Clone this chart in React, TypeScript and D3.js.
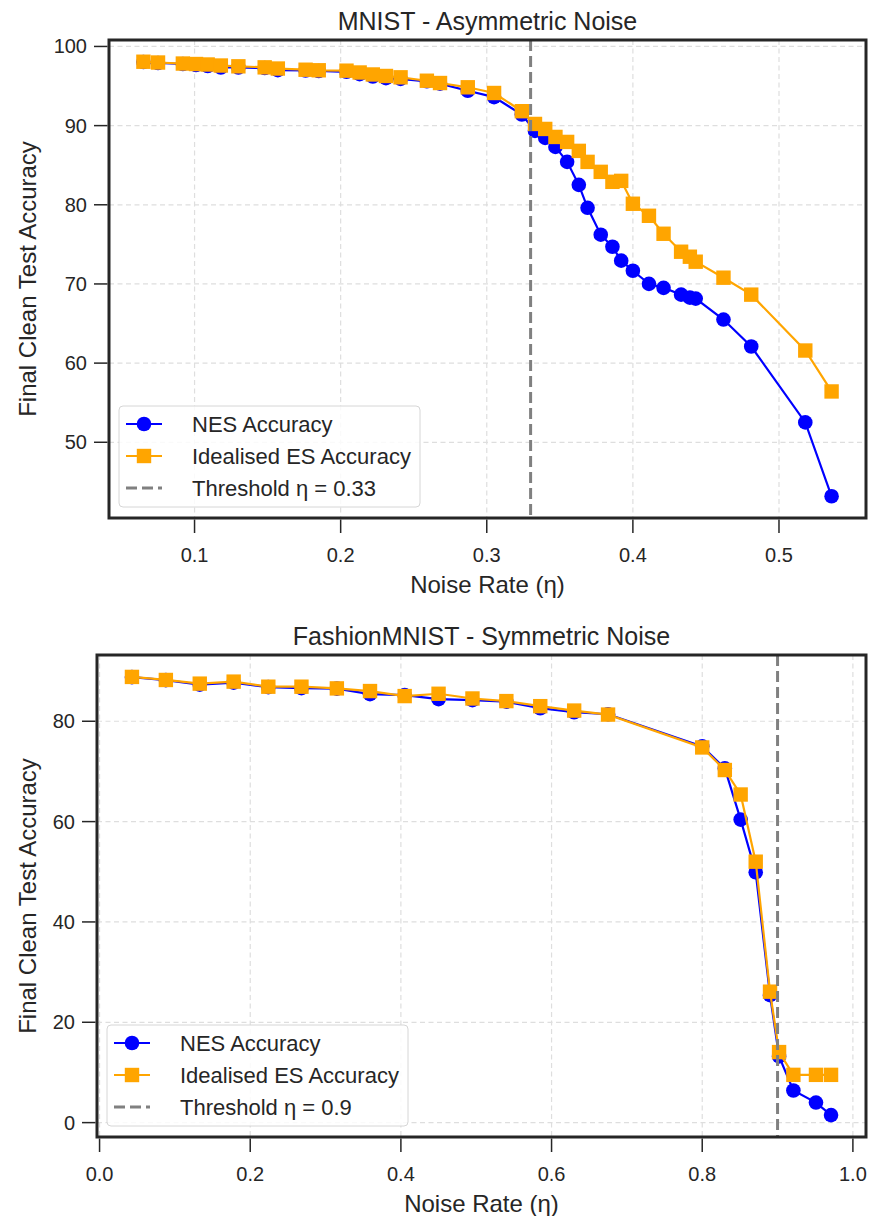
import React from 'react';
import * as d3 from 'd3';

// ---------- Data: MNIST - Asymmetric Noise ----------
const mnistNoise = [
  0.065, 0.075, 0.092, 0.101, 0.109, 0.118, 0.130, 0.148, 0.157, 0.176,
  0.185, 0.204, 0.213, 0.222, 0.231, 0.241, 0.259, 0.268, 0.287, 0.305,
  0.324, 0.333, 0.340, 0.347, 0.355, 0.363, 0.369, 0.378, 0.386, 0.392,
  0.400, 0.411, 0.421, 0.433, 0.439, 0.443, 0.462, 0.481, 0.518, 0.536,
];
const mnistNES = [
  98.03, 97.91, 97.78, 97.66, 97.53, 97.34, 97.34, 97.28, 97.0, 96.96,
  96.9, 96.8, 96.5, 96.2, 96.0, 95.9, 95.6, 95.3, 94.4, 93.6,
  91.4, 89.33, 88.45, 87.31, 85.42, 82.52, 79.62, 76.22, 74.7, 72.94,
  71.67, 70.01, 69.51, 68.65, 68.27, 68.15, 65.5, 62.1, 52.51, 43.18,
];
const mnistES = [
  98.07, 97.97, 97.84, 97.78, 97.72, 97.59, 97.49, 97.36, 97.21, 97.06,
  96.99, 96.94, 96.71, 96.46, 96.27, 96.1, 95.67, 95.38, 94.84, 94.12,
  91.82, 90.21, 89.58, 88.57, 87.94, 86.81, 85.42, 84.16, 82.9, 83.02,
  80.13, 78.61, 76.34, 74.07, 73.44, 72.81, 70.79, 68.65, 61.59, 56.42,
];
const mnistThreshold = 0.33;
const mnistXTicks = [0.1, 0.2, 0.3, 0.4, 0.5];
const mnistYTicks = [50, 60, 70, 80, 90, 100];

// ---------- Data: FashionMNIST - Symmetric Noise ----------
const fashionNoise = [
  0.043, 0.088, 0.133, 0.178, 0.224, 0.268, 0.315, 0.359, 0.405, 0.45,
  0.495, 0.54, 0.585, 0.63, 0.675, 0.8, 0.83, 0.851, 0.871, 0.89,
  0.902, 0.921, 0.951, 0.971,
];
const fashionNES = [
  88.8, 88.2, 87.3, 87.7, 86.8, 86.6, 86.5, 85.4, 85.2, 84.4,
  84.2, 83.9, 82.6, 81.8, 81.4, 75.0, 70.6, 60.4, 49.9, 25.4,
  13.2, 6.4, 4.0, 1.5,
];
const fashionES = [
  88.84, 88.23, 87.5, 87.9, 86.89, 86.89, 86.55, 86.02, 85.02, 85.48,
  84.54, 84.02, 83.01, 82.13, 81.33, 74.78, 70.28, 65.4, 52.01, 26.1,
  14.06, 9.52, 9.52, 9.52,
];
const fashionThreshold = 0.9;
const fashionXTicks = [0.0, 0.2, 0.4, 0.6, 0.8, 1.0];
const fashionYTicks = [0, 20, 40, 60, 80];

const FONT = '"Liberation Sans", Arial, Helvetica, sans-serif';
const TEXT = '#262626';
const BLUE = '#0000ff';
const ORANGE = '#ffa500';
const GRAY = '#808080';

type Box = { left: number; right: number; top: number; bottom: number };

function padded(ext: [number, number]): [number, number] {
  const p = (ext[1] - ext[0]) * 0.05;
  return [ext[0] - p, ext[1] + p];
}

function Square({ cx, cy, s, fill }: { cx: number; cy: number; s: number; fill: string }) {
  return <rect x={cx - s / 2} y={cy - s / 2} width={s} height={s} fill={fill} />;
}

function Panel(props: {
  title: string;
  xs: number[];
  nes: number[];
  es: number[];
  threshold: number;
  xTicks: number[];
  yTicks: number[];
  box: Box;
}) {
  const { title, xs, nes, es, threshold, xTicks, yTicks, box } = props;
  const { left, right, top, bottom } = box;
  const x = d3
    .scaleLinear()
    .domain(padded(d3.extent(xs) as [number, number]))
    .range([left, right]);
  const y = d3
    .scaleLinear()
    .domain(padded(d3.extent([...nes, ...es]) as [number, number]))
    .range([bottom, top]);
  const lineGen = (vals: number[]) =>
    d3
      .line<number>()
      .x((_, i) => x(xs[i]))
      .y((d) => y(d))(vals) as string;

  const tickLen = 15;
  const fmtX = d3.format('.1f');
  const midX = (left + right) / 2;
  const midY = (top + bottom) / 2;

  // legend
  const lx = left + 10;
  const lw = 301;
  const lh = 101;
  const ly = bottom - 11 - lh;
  const rowY = (k: number) => ly + 18 + k * 32;
  const sx0 = lx + 7;
  const sx1 = lx + 43;
  const sxm = (sx0 + sx1) / 2;
  const tx = lx + 73;

  return (
    <g>
      {/* grid */}
      {xTicks.map((t) => (
        <line key={'gx' + t} x1={x(t)} x2={x(t)} y1={top} y2={bottom}
          stroke="#dedede" strokeWidth={1.2} strokeDasharray="5,3.5" />
      ))}
      {yTicks.map((t) => (
        <line key={'gy' + t} x1={left} x2={right} y1={y(t)} y2={y(t)}
          stroke="#dedede" strokeWidth={1.2} strokeDasharray="5,3.5" />
      ))}

      {/* NES */}
      <path d={lineGen(nes)} fill="none" stroke={BLUE} strokeWidth={2.2} />
      {nes.map((v, i) => (
        <circle key={'n' + i} cx={x(xs[i])} cy={y(v)} r={7.3} fill={BLUE} />
      ))}
      {/* Idealised ES */}
      <path d={lineGen(es)} fill="none" stroke={ORANGE} strokeWidth={2.2} />
      {es.map((v, i) => (
        <Square key={'e' + i} cx={x(xs[i])} cy={y(v)} s={14.4} fill={ORANGE} />
      ))}

      {/* threshold */}
      <line x1={x(threshold)} x2={x(threshold)} y1={top} y2={bottom}
        stroke={GRAY} strokeWidth={3} strokeDasharray="11,5" />

      {/* frame */}
      <rect x={left} y={top} width={right - left} height={bottom - top}
        fill="none" stroke={TEXT} strokeWidth={3} />

      {/* x ticks */}
      {xTicks.map((t) => (
        <g key={'xt' + t}>
          <line x1={x(t)} x2={x(t)} y1={bottom + 1.5} y2={bottom + tickLen}
            stroke={TEXT} strokeWidth={1.5} />
          <text x={x(t)} y={bottom + 44} textAnchor="middle" fontSize={20}
            fill={TEXT} fontFamily={FONT}>{fmtX(t)}</text>
        </g>
      ))}
      {/* y ticks */}
      {yTicks.map((t) => (
        <g key={'yt' + t}>
          <line x1={left - tickLen} x2={left - 1.5} y1={y(t)} y2={y(t)}
            stroke={TEXT} strokeWidth={1.5} />
          <text x={left - tickLen - 7} y={y(t) + 7} textAnchor="end" fontSize={20}
            fill={TEXT} fontFamily={FONT}>{String(t)}</text>
        </g>
      ))}

      {/* labels */}
      <text x={midX} y={top - 10} textAnchor="middle" fontSize={25} fill={TEXT}
        fontFamily={FONT}>{title}</text>
      <text x={midX} y={bottom + 75} textAnchor="middle" fontSize={24} fill={TEXT}
        fontFamily={FONT}>Noise Rate (η)</text>
      <text transform={`translate(36,${midY}) rotate(-90)`} textAnchor="middle"
        fontSize={24} fill={TEXT} fontFamily={FONT}>Final Clean Test Accuracy</text>

      {/* legend */}
      <rect x={lx} y={ly} width={lw} height={lh} rx={4} ry={4}
        fill="#ffffff" fillOpacity={0.85} stroke="#d6d6d6" strokeWidth={1} />
      <line x1={sx0} x2={sx1} y1={rowY(0)} y2={rowY(0)} stroke={BLUE} strokeWidth={2.2} />
      <circle cx={sxm} cy={rowY(0)} r={7.3} fill={BLUE} />
      <text x={tx} y={rowY(0) + 7.5} fontSize={22} fill={TEXT} fontFamily={FONT}>NES Accuracy</text>
      <line x1={sx0} x2={sx1} y1={rowY(1)} y2={rowY(1)} stroke={ORANGE} strokeWidth={2.2} />
      <Square cx={sxm} cy={rowY(1)} s={14.4} fill={ORANGE} />
      <text x={tx} y={rowY(1) + 7.5} fontSize={22} fill={TEXT} fontFamily={FONT}>Idealised ES Accuracy</text>
      <line x1={sx0} x2={sx1} y1={rowY(2)} y2={rowY(2)} stroke={GRAY} strokeWidth={3}
        strokeDasharray="11,5" />
      <text x={tx} y={rowY(2) + 7.5} fontSize={22} fill={TEXT} fontFamily={FONT}>
        {`Threshold η = ${threshold}`}
      </text>
    </g>
  );
}

export default function App() {
  return (
    <svg
      width={870}
      height={1216}
      viewBox="0 0 870 1216"
      style={{ position: 'absolute', left: 0, top: 0, background: '#ffffff' }}
    >
      <rect x={0} y={0} width={870} height={1216} fill="#ffffff" />
      <Panel
        title="MNIST - Asymmetric Noise"
        xs={mnistNoise}
        nes={mnistNES}
        es={mnistES}
        threshold={mnistThreshold}
        xTicks={mnistXTicks}
        yTicks={mnistYTicks}
        box={{ left: 109, right: 866, top: 40, bottom: 518 }}
      />
      <Panel
        title="FashionMNIST - Symmetric Noise"
        xs={fashionNoise}
        nes={fashionNES}
        es={fashionES}
        threshold={fashionThreshold}
        xTicks={fashionXTicks}
        yTicks={fashionYTicks}
        box={{ left: 97, right: 866, top: 655, bottom: 1137 }}
      />
    </svg>
  );
}
